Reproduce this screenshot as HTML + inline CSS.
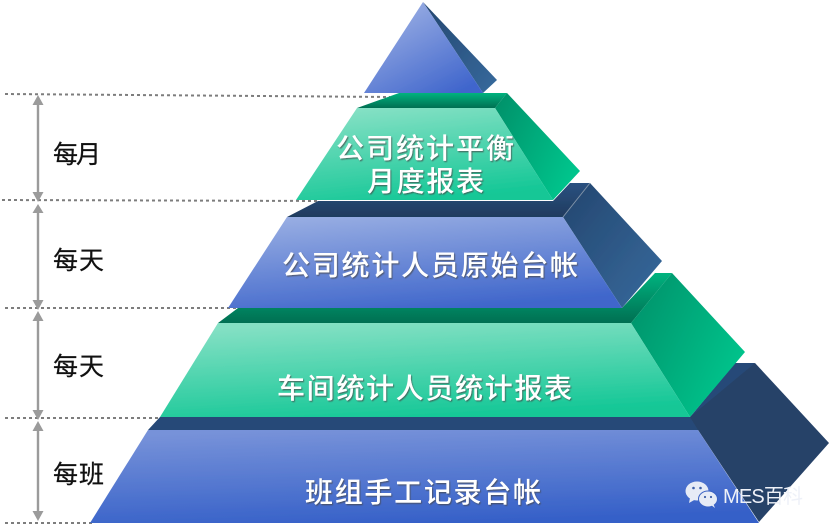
<!DOCTYPE html>
<html lang="zh">
<head>
<meta charset="utf-8">
<style>
html,body{margin:0;padding:0;background:#fff;width:830px;height:532px;overflow:hidden}
svg{display:block}
text{font-family:"Liberation Sans","Noto Sans CJK SC",sans-serif}
.t{fill:#fff;font-size:28px;font-weight:500;filter:url(#sh)}
.l{fill:#111;font-size:25px;stroke:#111;stroke-width:.25}
</style>
</head>
<body>
<svg width="830" height="532" viewBox="0 0 830 532" xmlns="http://www.w3.org/2000/svg">
<defs>
<filter id="sh" x="-5%" y="-20%" width="110%" height="140%"><feDropShadow dx="1" dy="1.2" stdDeviation="0.6" flood-color="#444" flood-opacity="0.7"/></filter>
<filter id="soft" x="-2%" y="-2%" width="104%" height="104%"><feGaussianBlur stdDeviation="0.35"/></filter>
<linearGradient id="b1" x1="0.1" y1="0" x2="0.8" y2="1"><stop offset="0" stop-color="#a4b6e6"/><stop offset="1" stop-color="#3f65cc"/></linearGradient>
<linearGradient id="b2" x1="0.25" y1="0" x2="0.6" y2="1"><stop offset="0" stop-color="#96ace2"/><stop offset="1" stop-color="#3f66cb"/></linearGradient>
<linearGradient id="b3" x1="0.3" y1="0" x2="0.55" y2="1"><stop offset="0" stop-color="#7792d9"/><stop offset="1" stop-color="#3560c8"/></linearGradient>
<linearGradient id="g1" x1="0.3" y1="0" x2="0.6" y2="1"><stop offset="0" stop-color="#84e0c4"/><stop offset="1" stop-color="#13c796"/></linearGradient>
<linearGradient id="bs" x1="0" y1="0" x2="1" y2="1"><stop offset="0" stop-color="#24466f"/><stop offset="1" stop-color="#376a9d"/></linearGradient>
<linearGradient id="bd" x1="0" y1="0" x2="0" y2="1"><stop offset="0" stop-color="#2b5181"/><stop offset="1" stop-color="#1f3b5f"/></linearGradient>
<linearGradient id="gs" x1="0" y1="0" x2="1" y2="0.6"><stop offset="0" stop-color="#068f68"/><stop offset="1" stop-color="#00c48c"/></linearGradient>
<linearGradient id="gd" x1="0" y1="0" x2="0" y2="1"><stop offset="0" stop-color="#00b37f"/><stop offset="1" stop-color="#056f52"/></linearGradient>
</defs>

<g filter="url(#soft)">
<!-- dotted guides -->
<g stroke="#7d7d7d" stroke-width="2" stroke-dasharray="3 3" fill="none">
<line x1="5" y1="94" x2="390" y2="97"/>
<line x1="2" y1="200" x2="320" y2="201"/>
<line x1="5" y1="308" x2="240" y2="308"/>
<line x1="5" y1="418" x2="162" y2="418"/>
<line x1="5" y1="523" x2="92" y2="523"/>
</g>

<!-- arrows -->
<g stroke="#9b9b9b" stroke-width="2.4" fill="none">
<line x1="38" y1="100" x2="38" y2="198"/>
<line x1="38" y1="208" x2="38" y2="304"/>
<line x1="38" y1="316" x2="38" y2="414"/>
<line x1="38" y1="426" x2="38" y2="518"/>
</g>
<g fill="#9b9b9b">
<polygon points="38,95 32.5,105 43.5,105"/>
<polygon points="38,202 32.5,192 43.5,192"/>
<polygon points="38,204 32.5,213 43.5,213"/>
<polygon points="38,310 32.5,300 43.5,300"/>
<polygon points="38,311 32.5,321 43.5,321"/>
<polygon points="38,420 32.5,410 43.5,410"/>
<polygon points="38,421 32.5,431 43.5,431"/>
<polygon points="38,521 32.5,511 43.5,511"/>
</g>

<!-- tier 1 -->
<polygon points="423,2 497,80 483,93" fill="url(#bs)"/>
<polygon points="423,2 364,93 483,93" fill="url(#b1)"/>

<!-- tier 5 (bottom) -->
<polygon points="160,417 148,430 698,430 755,363 735,363 690,417" fill="#264a78"/>
<polygon points="755,363 829,443 759,522 698,430 690,417" fill="#274268"/>
<polygon points="148,430 698,430 759,523 90,523" fill="url(#b3)"/>

<!-- tier 4 -->
<polygon points="238,308 218,323 631,323 672,273 655,273 622,308" fill="url(#gd)"/>
<polygon points="672,273 745,352 690,417 631,323" fill="url(#gs)"/>
<polygon points="218,323 631,323 690,417 160,417" fill="url(#g1)"/>

<!-- tier 3 -->
<polygon points="318,201 287,217 563,217 590,183 570,183 553,201" fill="url(#bd)"/>
<polygon points="590,183 662,261 622,308 563,217" fill="url(#bs)"/>
<polygon points="287,217 563,217 622,308 228,308" fill="url(#b2)"/>
<line x1="563" y1="217" x2="590" y2="183" stroke="#7f92a8" stroke-width="1"/>

<!-- tier 2 -->
<polygon points="399,93 357,108 495,108 507,93" fill="url(#gd)"/>
<polygon points="507,93 580,171 553,200 495,108" fill="url(#gs)"/>
<polygon points="357,108 495,108 553,200 296,200" fill="url(#g1)"/>
</g>

<text class="l" x="53" y="163" textLength="48" lengthAdjust="spacing">每月</text>
<text class="l" x="53" y="269" textLength="51" lengthAdjust="spacing">每天</text>
<text class="l" x="53" y="375" textLength="51" lengthAdjust="spacing">每天</text>
<text class="l" x="53" y="483" textLength="51" lengthAdjust="spacing">每班</text>

<!-- labels -->
<text class="t" x="336" y="158" textLength="178" lengthAdjust="spacing">公司统计平衡</text>
<text class="t" x="367" y="191" textLength="117" lengthAdjust="spacing">月度报表</text>
<text class="t" x="282" y="275" textLength="296" lengthAdjust="spacing">公司统计人员原始台帐</text>
<text class="t" x="277" y="398" textLength="295" lengthAdjust="spacing">车间统计人员统计报表</text>
<text class="t" x="305" y="502" textLength="236" lengthAdjust="spacing">班组手工记录台帐</text>

<!-- watermark -->
<g>
<ellipse cx="697" cy="491" rx="11.5" ry="9.5" fill="#e6ebf6"/>
<polygon points="690,498 689,503 696,499" fill="#e6ebf6"/>
<ellipse cx="708" cy="499" rx="9.5" ry="8" fill="#e6ebf6" stroke="#3a62c4" stroke-width="1"/>
<polygon points="711,505 715,508 713,503" fill="#e6ebf6"/>
<circle cx="693.5" cy="488" r="1.3" fill="#3d5fa8"/>
<circle cx="700.5" cy="488" r="1.3" fill="#3d5fa8"/>
<circle cx="705" cy="497" r="1.1" fill="#3d5fa8"/>
<circle cx="711" cy="497" r="1.1" fill="#3d5fa8"/>
</g>
<text x="723" y="503" font-size="20" fill="#eef1f8" textLength="80" lengthAdjust="spacing">MES百科</text>
</svg>
</body>
</html>
